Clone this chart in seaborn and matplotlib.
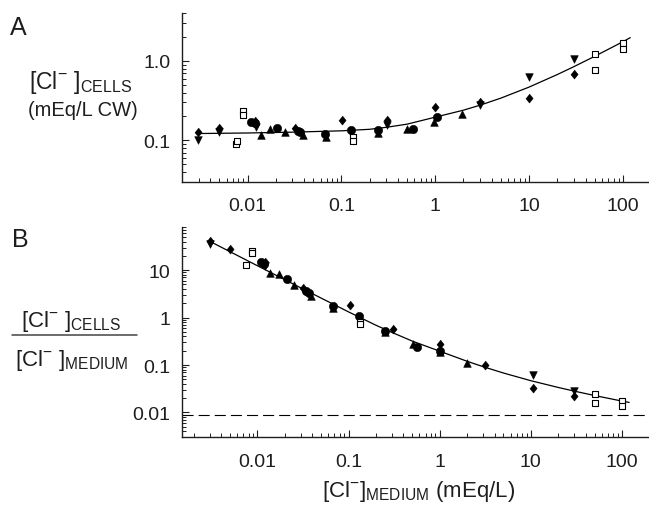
import matplotlib
matplotlib.use("Agg")
import matplotlib.pyplot as plt
import seaborn as sns
import pandas as pd
from matplotlib.ticker import FixedLocator, FixedFormatter, NullFormatter
from matplotlib.lines import Line2D

# ---------------- data: panel A ([Cl-] cells vs [Cl-] medium) ----------------
a_diamond_x = [0.00297, 0.00498, 0.0120, 0.032, 0.102, 0.303, 1.0, 3.0, 10.0, 30.0]
a_diamond_y = [0.127, 0.142, 0.175, 0.142, 0.180, 0.180, 0.264, 0.305, 0.341, 0.684]
a_vtri_x = [0.00297, 0.00498, 0.0122, 0.303, 3.0, 10.0, 30.0]
a_vtri_y = [0.1016, 0.127, 0.148, 0.156, 0.28, 0.634, 1.05]
a_circle_x = [0.011, 0.012, 0.0207, 0.0347, 0.0365, 0.0667, 0.128, 0.246, 0.574, 1.05]
a_circle_y = [0.169, 0.164, 0.142, 0.132, 0.128, 0.120, 0.135, 0.135, 0.139, 0.198]
a_tri_x = [0.0138, 0.0173, 0.025, 0.039, 0.068, 0.246, 0.503, 0.97, 1.91]
a_tri_y = [0.117, 0.139, 0.126, 0.117, 0.109, 0.123, 0.139, 0.169, 0.212]
a_square_x = [0.0075, 0.0078, 0.00885, 0.00885, 0.133, 0.133, 50, 50, 100, 100]
a_square_y = [0.091, 0.097, 0.235, 0.208, 0.109, 0.099, 1.21, 0.774, 1.69, 1.43]

fit_a_x = [0.0029, 0.01, 0.03, 0.1, 0.2, 0.3, 0.5, 1, 2, 3, 5, 10, 20, 30, 50, 100, 120]
fit_a_y = [0.122, 0.124, 0.127, 0.132, 0.138, 0.146, 0.160, 0.196, 0.24, 0.277, 0.34,
           0.468, 0.673, 0.845, 1.14, 1.74, 1.96]

# ---------------- data: panel B (ratio cells / medium) ----------------
b_diamond_x = [0.003, 0.005, 0.012, 0.0318, 0.103, 0.304, 1.0, 3.14, 10.5, 29.7]
b_diamond_y = [40.7, 28.2, 14.5, 4.26, 1.8, 0.58, 0.273, 0.0986, 0.0334, 0.0222]
b_vtri_x = [0.003, 0.0122, 10.5, 29.7]
b_vtri_y = [34.8, 12.2, 0.0607, 0.028]
b_circle_x = [0.0111, 0.0118, 0.0209, 0.0346, 0.0369, 0.0678, 0.13, 0.25, 0.567, 1.0]
b_circle_y = [14.7, 13.8, 6.6, 3.6, 3.23, 1.75, 1.08, 0.52, 0.244, 0.2]
b_tri_x = [0.0137, 0.0173, 0.0251, 0.039, 0.068, 0.25, 0.51, 1.0, 1.98]
b_tri_y = [8.5, 8.1, 4.77, 2.84, 1.6, 0.5, 0.273, 0.188, 0.112]
b_square_x = [0.0075, 0.0088, 0.0088, 0.135, 0.135, 50, 50, 100, 100]
b_square_y = [12.6, 25, 23.2, 0.8, 0.74, 0.024, 0.016, 0.0172, 0.0138]

fit_b_x = [0.0029, 0.01, 0.03, 0.1, 0.2, 0.3, 0.5, 1, 2, 3, 5, 10, 20, 30, 50, 100, 120]
fit_b_y = [42, 12.4, 4.23, 1.32, 0.69, 0.487, 0.32, 0.196, 0.12, 0.0923, 0.068,
           0.0468, 0.0337, 0.0282, 0.0228, 0.0174, 0.0163]

b_reference_level = 0.0088

x_ticks = [0.01, 0.1, 1, 10, 100]
x_ticklabels = ["0.01", "0.1", "1", "10", "100"]
a_yticks = [0.1, 1.0]
a_yticklabels = ["0.1", "1.0"]
b_yticks = [0.01, 0.1, 1, 10]
b_yticklabels = ["0.01", "0.1", "1", "10"]

# ---------------- style ----------------
sns.set_style("ticks")
plt.rcParams["font.family"] = ["Liberation Sans", "DejaVu Sans"]
plt.rcParams["mathtext.default"] = "regular"
TXT = "#1e1e1e"

fig = plt.figure(figsize=(6.49, 5.06), dpi=100)
W, H = 649.0, 506.0
axA = fig.add_axes([182 / W, 1 - 183 / H, 1 - 182 / W, (183 - 14) / H])
axB = fig.add_axes([182 / W, 1 - 438.3 / H, 1 - 182 / W, (438.3 - 228.3) / H])

diamond = [(0, 1), (0.8, 0), (0, -1), (-0.8, 0)]


def draw_points(ax, xs, ys, marker, size, filled=True):
    df = pd.DataFrame({"x": xs, "y": ys})
    if filled:
        sns.scatterplot(data=df, x="x", y="y", marker=marker, s=size, color="black",
                        edgecolor="black", linewidth=0.4, ax=ax, zorder=3, legend=False)
    else:
        sns.scatterplot(data=df, x="x", y="y", marker=marker, s=size, facecolor="white",
                        edgecolor="black", linewidth=0.8, ax=ax, zorder=3, legend=False)


def draw_fit(ax, xs, ys):
    df = pd.DataFrame({"x": xs, "y": ys})
    sns.lineplot(data=df, x="x", y="y", color="black", linewidth=0.9, sort=False,
                 estimator=None, ax=ax, zorder=2, legend=False)


for ax, fx, fy, pts in [
    (axA, fit_a_x, fit_a_y,
     [(a_diamond_x, a_diamond_y, diamond, 42, True),
      (a_vtri_x, a_vtri_y, "v", 30, True),
      (a_circle_x, a_circle_y, "o", 36, True),
      (a_tri_x, a_tri_y, "^", 30, True),
      (a_square_x, a_square_y, "s", 22, False)]),
    (axB, fit_b_x, fit_b_y,
     [(b_diamond_x, b_diamond_y, diamond, 42, True),
      (b_vtri_x, b_vtri_y, "v", 30, True),
      (b_circle_x, b_circle_y, "o", 36, True),
      (b_tri_x, b_tri_y, "^", 30, True),
      (b_square_x, b_square_y, "s", 22, False)]),
]:
    draw_fit(ax, fx, fy)
    for xs, ys, m, s, f in pts:
        draw_points(ax, xs, ys, m, s, f)

axB.axhline(b_reference_level, color="black", linewidth=0.8, dashes=(10, 4.5), zorder=1)

# ---------------- axes ----------------
axA.set_xscale("log")
axA.set_yscale("log")
axB.set_xscale("log")
axB.set_yscale("log")
axA.set_xlim(0.002, 190)
axA.set_ylim(0.03, 4)
axB.set_xlim(0.00149, 198)
axB.set_ylim(0.003, 80)

minor_vals = [m * 10.0 ** e for e in range(-4, 4) for m in range(2, 10)]
for ax, yt, ytl in [(axA, a_yticks, a_yticklabels), (axB, b_yticks, b_yticklabels)]:
    ax.xaxis.set_major_locator(FixedLocator(x_ticks))
    ax.xaxis.set_major_formatter(FixedFormatter(x_ticklabels))
    ax.xaxis.set_minor_locator(FixedLocator(minor_vals))
    ax.xaxis.set_minor_formatter(NullFormatter())
    ax.yaxis.set_major_locator(FixedLocator(yt))
    ax.yaxis.set_major_formatter(FixedFormatter(ytl))
    ax.yaxis.set_minor_locator(FixedLocator(minor_vals))
    ax.yaxis.set_minor_formatter(NullFormatter())
    ax.set_xlabel("")
    ax.set_ylabel("")
    for side in ["top", "right"]:
        ax.spines[side].set_visible(False)
    for side in ["left", "bottom"]:
        ax.spines[side].set_linewidth(1.0)
        ax.spines[side].set_color("#1e1e1e")
    ax.tick_params(axis="both", which="major", direction="in", length=5, width=0.8,
                   labelsize=14, colors="#1e1e1e", labelcolor=TXT)
    ax.tick_params(axis="both", which="minor", direction="in", length=2.8, width=0.7,
                   colors="#1e1e1e")
    ax.tick_params(axis="x", which="major", pad=11)
    ax.tick_params(axis="y", which="major", pad=8.5)
    ax.set_facecolor("white")

# ---------------- text ----------------
fig.text(10 / W, 1 - 35 / H, "A", fontsize=18, color=TXT, ha="left", va="baseline")
fig.text(12 / W, 1 - 246.7 / H, "B", fontsize=18, color=TXT, ha="left", va="baseline")

fig.text(81 / W, 1 - 89 / H, r"[Cl$^{-}$ ]$_{CELLS}$", fontsize=16.5, color=TXT,
         ha="center", va="baseline")
fig.text(83 / W, 1 - 116 / H, "(mEq/L CW)", fontsize=14.5, color=TXT,
         ha="center", va="baseline")

fig.text(71 / W, 1 - 327 / H, r"[Cl$^{-}$ ]$_{CELLS}$", fontsize=16, color=TXT,
         ha="center", va="baseline")
fig.add_artist(Line2D([11.7 / W, 136.7 / W], [1 - 335.7 / H, 1 - 335.7 / H],
                      color="#444444", linewidth=1.1, transform=fig.transFigure))
fig.text(71.7 / W, 1 - 366 / H, r"[Cl$^{-}$ ]$_{MEDIUM}$", fontsize=16, color=TXT,
         ha="center", va="baseline")

fig.text(419 / W, 1 - 497 / H, r"[Cl$^{-}$]$_{MEDIUM}$ (mEq/L)", fontsize=16, color=TXT,
         ha="center", va="baseline")

fig.savefig("out.png", dpi=100, facecolor="white")
